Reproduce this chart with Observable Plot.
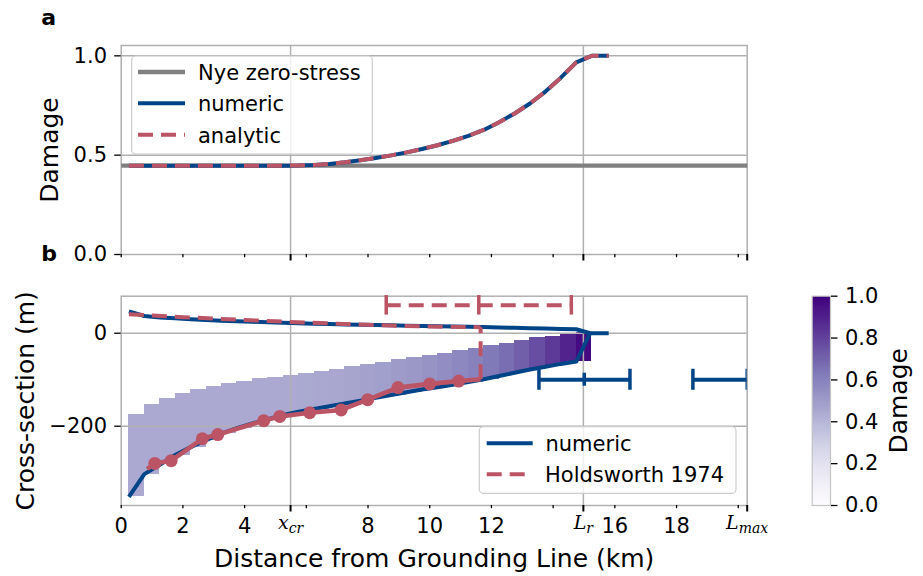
<!DOCTYPE html>
<html><head><meta charset="utf-8">
<script src="https://cdn.jsdelivr.net/npm/d3@7"></script>
<script src="https://cdn.jsdelivr.net/npm/@observablehq/plot@0.6"></script>
<style>
html,body{margin:0;padding:0;background:#fff;}
#chart{position:relative;width:923px;height:576px;overflow:hidden;font-family:"DejaVu Sans",sans-serif;}
#chart svg{position:absolute;overflow:visible;}
</style></head><body><div id="chart"></div>
<script>
// ---------- constants / tick positions ----------
const xcr = 5.49, Lr = 14.98, Lmax = 20.29;
const minorTicks = [0, 2, 4, 6, 8, 10, 12, 14, 16, 18, 20];
const labelTicks = [0, 2, 4, 8, 10, 12, 16, 18];
const majorTicks = [xcr, Lr, Lmax];
const majorNames = ["x_cr", "L_r", "L_max"];
const damageTicks = [0, 0.5, 1.0];
const sectionTicks = [-200, 0];
const cbarTicks = [0, 0.2, 0.4, 0.6, 0.8, 1.0];

// ---------- panel a: damage ----------
const nyeX = [0, 20.29];
const nyeY = [0.447, 0.447];
const damageX = [0.25,0.75,1.25,1.75,2.25,2.75,3.25,3.75,4.25,4.75,5.25,5.75,6.25,6.75,7.25,7.75,8.25,8.75,9.25,9.75,10.25,10.75,11.25,11.75,12.25,12.75,13.25,13.75,14.25,14.75,15.25,15.8];
const damageNumeric = [0.447,0.447,0.447,0.447,0.447,0.447,0.447,0.447,0.447,0.447,0.447,0.448,0.451,0.456,0.464,0.474,0.486,0.499,0.514,0.531,0.550,0.572,0.597,0.627,0.666,0.710,0.760,0.820,0.890,0.967,1.0,1.0];
const damageAnalytic = [0.447,0.447,0.447,0.447,0.447,0.447,0.447,0.447,0.447,0.447,0.447,0.448,0.451,0.456,0.464,0.474,0.486,0.499,0.514,0.531,0.550,0.572,0.597,0.627,0.666,0.710,0.760,0.820,0.890,0.967,1.0,1.0];

// ---------- panel b: cross-section ----------
const sectionX = [0.25,0.75,1.25,1.75,2.25,2.75,3.25,3.75,4.25,4.75,5.25,5.75,6.25,6.75,7.25,7.75,8.25,8.75,9.25,9.75,10.25,10.75,11.25,11.75,12.25,12.75,13.25,13.75,14.25,14.75];
const crevasseTop = [-175,-153,-140,-130,-122,-114,-109,-104,-98,-95,-90,-86,-82,-77,-72,-68,-63,-57,-53,-48,-43,-38,-32,-27,-22,-16,-10,-6,-2,2];
const crevasseBase = [-352,-303,-283,-262,-245,-230,-216,-204,-194,-185,-176,-169,-163,-157,-151,-145,-139,-133,-127,-121,-116,-111,-105,-99,-92,-85,-78,-72,-66,-61];
const crevasseDamage = [0.447,0.447,0.447,0.447,0.447,0.447,0.447,0.447,0.447,0.447,0.447,0.448,0.451,0.456,0.464,0.474,0.486,0.499,0.514,0.531,0.550,0.572,0.597,0.627,0.666,0.710,0.760,0.820,0.890,0.967];

const surfaceX = [0.25,0.75,1.25,1.75,2.25,2.75,3.25,3.75,4.25,4.75,5.25,5.75,6.25,6.75,7.25,7.75,8.25,8.75,9.25,9.75,10.25,10.75,11.25,11.75,12.25,12.75,13.25,13.75,14.25,14.75,15.2,15.8];
const surfaceY = [47,37,34,32,30,28.5,27,25.5,24.5,23.5,22.5,21.5,20.5,19.7,19,18.3,17.6,16.9,16.2,15.6,15,14.3,13.7,13.1,12.4,11.6,10.8,10,9.2,8.5,0,0];
const baseX = [0.25,0.75,1.25,1.75,2.25,2.75,3.25,3.75,4.25,4.75,5.25,5.75,6.25,6.75,7.25,7.75,8.25,8.75,9.25,9.75,10.25,10.75,11.25,11.75,12.25,12.75,13.25,13.75,14.25,14.75,15.2];
const baseY = [-352,-303,-283,-262,-245,-230,-216,-204,-194,-185,-176,-169,-163,-157,-151,-145,-139,-133,-127,-121,-116,-111,-105,-99,-92,-85,-78,-72,-66,-61,0];

const holdSurfX = [0.25,1,2,3,4,5,6,7,8,9,10,11,11.65];
const holdSurfY = [41,38,34.5,31.5,28.5,25.5,23,20.5,18,16,14.5,13.3,13];
const holdFrontX = [11.65, 11.65];
const holdFrontY = [-99, 13];
const holdBaseX = [0.84,1.09,1.62,2.63,3.13,4.62,5.14,6.11,7.13,7.99,8.97,10.0,10.94,11.65];
const holdBaseY = [-292,-280,-274,-227,-218,-188,-179,-171,-165,-143,-117,-109,-103,-99];
const holdDotX = [1.09,1.62,2.63,3.13,4.62,5.14,6.11,7.13,7.99,8.97,10.0,10.94];
const holdDotY = [-280,-274,-227,-218,-188,-179,-171,-165,-143,-117,-109,-103];

const redErrCenter = [11.59], redErrHalf = [3.0], redErrY = [60];
const blueErrLeft = [13.54, 18.53], blueErrRight = [16.49, 20.29], blueErrY = [-100, -100];
const blueErrMid = [15.01];

// ---------- styles ----------
const FONT = "DejaVu Sans";
const BLUE = "#004488", RED = "#BB5566", GRAY = "#808080", GRID = "#b0b0b0";
const DASH = "15,8";
const colorScale = {type: "linear", scheme: "purples", domain: [0, 1]};
const zip = (xs, ys) => xs.map((x, i) => ({x, y: ys[i]}));
const baseStyle = {fontFamily: FONT, fontSize: "21px", color: "#000", background: "transparent", overflow: "visible"};
const chart = document.getElementById("chart");

// ---------- panel a ----------
const plotA = Plot.plot({
  width: 923, height: 270,
  marginLeft: 120.7, marginRight: 176.3, marginTop: 45, marginBottom: 16,
  x: {domain: [0, Lmax], axis: null},
  y: {domain: [0, 1.052], axis: null},
  style: baseStyle,
  marks: [
    Plot.gridY([0.5, 1.0], {stroke: GRID, strokeOpacity: 1, strokeWidth: 1.5}),
    Plot.gridX([xcr, Lr], {stroke: GRID, strokeOpacity: 1, strokeWidth: 1.5}),
    Plot.frame({stroke: GRID, strokeWidth: 1.5}),
    Plot.line(zip(nyeX, nyeY), {x: "x", y: "y", stroke: GRAY, strokeWidth: 4.3, strokeLinecap: "butt"}),
    Plot.line(zip(damageX, damageNumeric), {x: "x", y: "y", stroke: BLUE, strokeWidth: 4, strokeLinecap: "butt"}),
    Plot.line(zip(damageX, damageAnalytic), {x: "x", y: "y", stroke: RED, strokeWidth: 4, strokeDasharray: DASH, strokeLinecap: "butt"}),
    Plot.axisY(damageTicks, {anchor: "left", tickSize: 6.5, tickPadding: 7.7, strokeWidth: 1.3, tickFormat: d3.format(".1f"), label: null, fontSize: 21}),
    Plot.axisX(minorTicks, {anchor: "bottom", tickSize: 3.2, strokeWidth: 1.3, tickFormat: () => "", label: null}),
    Plot.axisX(majorTicks, {anchor: "bottom", tickSize: 6.5, strokeWidth: 2, tickFormat: () => "", label: null}),
    Plot.text(["a"], {text: d => d, frameAnchor: "top-left", dx: -80, dy: -28, lineAnchor: "middle", textAnchor: "start", fontWeight: "bold", fontSize: 22}),
    Plot.text(["Damage"], {text: d => d, frameAnchor: "left", dx: -71.2, rotate: -90, lineAnchor: "middle", textAnchor: "middle", fontSize: 25})
  ]
});
plotA.style.left = "0px"; plotA.style.top = "0px";
chart.appendChild(plotA);

// ---------- panel b ----------
const bars = sectionX.map((x, i) => ({x1: x, x2: x + 0.5, y1: crevasseBase[i], y2: crevasseTop[i], d: crevasseDamage[i]}));
const capPx = 21 / 0.465 / 2; // half cap height in metres
const plotB = Plot.plot({
  width: 923, height: 306,
  marginLeft: 120.7, marginRight: 176.3, marginTop: 25.7, marginBottom: 71,
  x: {domain: [0, Lmax], axis: null},
  y: {domain: [-370.5, 79.6], axis: null},
  color: colorScale,
  style: baseStyle,
  marks: [
    Plot.rect(bars, {x1: "x1", x2: "x2", y1: "y1", y2: "y2", fill: "d", shapeRendering: "crispEdges"}),
    Plot.gridY(sectionTicks, {stroke: GRID, strokeOpacity: 1, strokeWidth: 1.5}),
    Plot.gridX([xcr, Lr], {stroke: GRID, strokeOpacity: 1, strokeWidth: 1.5}),
    Plot.frame({stroke: GRID, strokeWidth: 1.5}),
    Plot.line(zip(surfaceX, surfaceY), {x: "x", y: "y", stroke: BLUE, strokeWidth: 4, strokeLinecap: "butt"}),
    Plot.line(zip(baseX, baseY), {x: "x", y: "y", stroke: BLUE, strokeWidth: 4, strokeLinecap: "butt"}),
    Plot.line(zip(holdSurfX, holdSurfY), {x: "x", y: "y", stroke: RED, strokeWidth: 4, strokeDasharray: DASH, strokeLinecap: "butt"}),
    Plot.line(zip(holdFrontX, holdFrontY), {x: "x", y: "y", stroke: RED, strokeWidth: 4, strokeDasharray: DASH, strokeLinecap: "butt"}),
    Plot.line(zip(holdBaseX, holdBaseY), {x: "x", y: "y", stroke: RED, strokeWidth: 4.6, strokeLinecap: "butt"}),
    Plot.dot(zip(holdDotX, holdDotY), {x: "x", y: "y", r: 6.5, fill: RED}),
    // red dashed error bar
    Plot.ruleY(redErrCenter.map((c, i) => ({c, h: redErrHalf[i], y: redErrY[i]})), {y: "y", x1: d => d.c - d.h, x2: d => d.c + d.h, stroke: RED, strokeWidth: 4, strokeDasharray: DASH}),
    Plot.ruleX(redErrCenter.flatMap((c, i) => [c - redErrHalf[i], c, c + redErrHalf[i]].map(x => ({x, y: redErrY[i]}))), {x: "x", y1: d => d.y - capPx * 0.93, y2: d => d.y + capPx * 0.93, stroke: RED, strokeWidth: 3.5}),
    // blue error bars
    Plot.ruleY(blueErrY.map((y, i) => ({y, a: blueErrLeft[i], b: blueErrRight[i]})), {y: "y", x1: "a", x2: "b", stroke: BLUE, strokeWidth: 4, clip: true}),
    Plot.ruleX(blueErrY.flatMap((y, i) => [{x: blueErrLeft[i], y}, {x: blueErrRight[i], y}]), {x: "x", y1: d => d.y - capPx, y2: d => d.y + capPx, stroke: BLUE, strokeWidth: 3.5, clip: true}),
    Plot.ruleX(blueErrMid.map(x => ({x, y: blueErrY[0]})), {x: "x", y1: d => d.y - capPx * 0.62, y2: d => d.y + capPx * 0.62, stroke: BLUE, strokeWidth: 3.5}),
    // axes
    Plot.axisY(sectionTicks, {anchor: "left", tickSize: 6.5, tickPadding: 7.7, strokeWidth: 1.3, tickFormat: d => d < 0 ? "\u2212" + Math.abs(d) : String(d), label: null, fontSize: 21}),
    Plot.axisX(minorTicks, {anchor: "bottom", tickSize: 3.2, strokeWidth: 1.3, tickFormat: () => "", label: null}),
    Plot.axisX(labelTicks, {anchor: "bottom", tickSize: 0, tickPadding: 12.8, tickFormat: d => String(d), label: null, fontSize: 21}),
    Plot.axisX(majorTicks, {anchor: "bottom", tickSize: 6.5, tickPadding: 3.8, strokeWidth: 2, tickFormat: d => majorNames[majorTicks.indexOf(d)], label: null, fontSize: 19}),
    Plot.text(["b"], {text: d => d, frameAnchor: "top-left", dx: -80, dy: -42.7, lineAnchor: "middle", textAnchor: "start", fontWeight: "bold", fontSize: 22}),
    Plot.text(["Cross-section (m)"], {text: d => d, frameAnchor: "left", dx: -95.5, rotate: -90, lineAnchor: "middle", textAnchor: "middle", fontSize: 25}),
    Plot.text(["Distance from Grounding Line (km)"], {text: d => d, frameAnchor: "bottom", dy: 53, lineAnchor: "middle", textAnchor: "middle", fontSize: 25})
  ]
});
plotB.style.left = "0px"; plotB.style.top = "270px";
chart.appendChild(plotB);

// math-style labels (italic with subscript)
const mathParts = {"x_cr": ["x", "cr"], "L_r": ["L", "r"], "L_max": ["L", "max"]};
plotB.querySelectorAll("text").forEach(t => {
  const s = t.textContent;
  if (mathParts[s]) {
    const [m, sub] = mathParts[s];
    t.textContent = "";
    const ns = "http://www.w3.org/2000/svg";
    const a = document.createElementNS(ns, "tspan");
    a.textContent = m;
    const b = document.createElementNS(ns, "tspan");
    b.textContent = sub;
    b.setAttribute("font-size", "14");
    b.setAttribute("dy", "4");
    t.appendChild(a); t.appendChild(b);
    t.setAttribute("font-family", "DejaVu Serif");
    t.setAttribute("font-style", "italic");
  }
});

// ---------- colour bar ----------
const strips = d3.range(200).map(i => ({v0: i / 200, v1: (i + 1) / 200}));
const plotC = Plot.plot({
  width: 133, height: 306,
  marginLeft: 21.7, marginRight: 93, marginTop: 25.7, marginBottom: 71,
  x: {domain: [0, 1], axis: null},
  y: {domain: [0, 1], axis: null},
  color: colorScale,
  style: baseStyle,
  marks: [
    Plot.rect(strips, {x1: 0, x2: 1, y1: "v0", y2: "v1", fill: d => (d.v0 + d.v1) / 2, shapeRendering: "crispEdges"}),
    Plot.frame({stroke: "#c4c4c4", strokeWidth: 1.2}),
    Plot.axisY(cbarTicks, {anchor: "right", tickSize: 6.5, tickPadding: 8, strokeWidth: 1.3, tickFormat: d3.format(".1f"), label: null, fontSize: 21}),
    Plot.text(["Damage"], {text: d => d, frameAnchor: "right", dx: 68.25, rotate: -90, lineAnchor: "middle", textAnchor: "middle", fontSize: 25})
  ]
});
plotC.style.left = "790px"; plotC.style.top = "270px";
chart.appendChild(plotC);

// ---------- legends ----------
const legendSvg = `
<svg width="923" height="576" style="left:0;top:0" font-family="DejaVu Sans" font-size="21">
  <rect x="131.7" y="56" width="240.6" height="98" rx="4" fill="#fff" fill-opacity="0.8" stroke="#cccccc" stroke-width="1.2"/>
  <line x1="138" x2="185" y1="72" y2="72" stroke="${GRAY}" stroke-width="4.3"/>
  <text x="198" y="80">Nye zero-stress</text>
  <line x1="138" x2="185" y1="103.3" y2="103.3" stroke="${BLUE}" stroke-width="4"/>
  <text x="198" y="111.3">numeric</text>
  <line x1="138" x2="185" y1="134.7" y2="134.7" stroke="${RED}" stroke-width="4" stroke-dasharray="${DASH}"/>
  <text x="198" y="142.7">analytic</text>
  <rect x="479.3" y="426.7" width="256.7" height="66.6" rx="4" fill="#fff" fill-opacity="0.8" stroke="#cccccc" stroke-width="1.2"/>
  <line x1="486.7" x2="532.7" y1="443.3" y2="443.3" stroke="${BLUE}" stroke-width="4"/>
  <text x="545.5" y="450.7">numeric</text>
  <line x1="486.7" x2="532.7" y1="474.3" y2="474.3" stroke="${RED}" stroke-width="4" stroke-dasharray="${DASH}"/>
  <text x="545" y="481.7">Holdsworth 1974</text>
</svg>`;
chart.insertAdjacentHTML("beforeend", legendSvg);
</script></body></html>
